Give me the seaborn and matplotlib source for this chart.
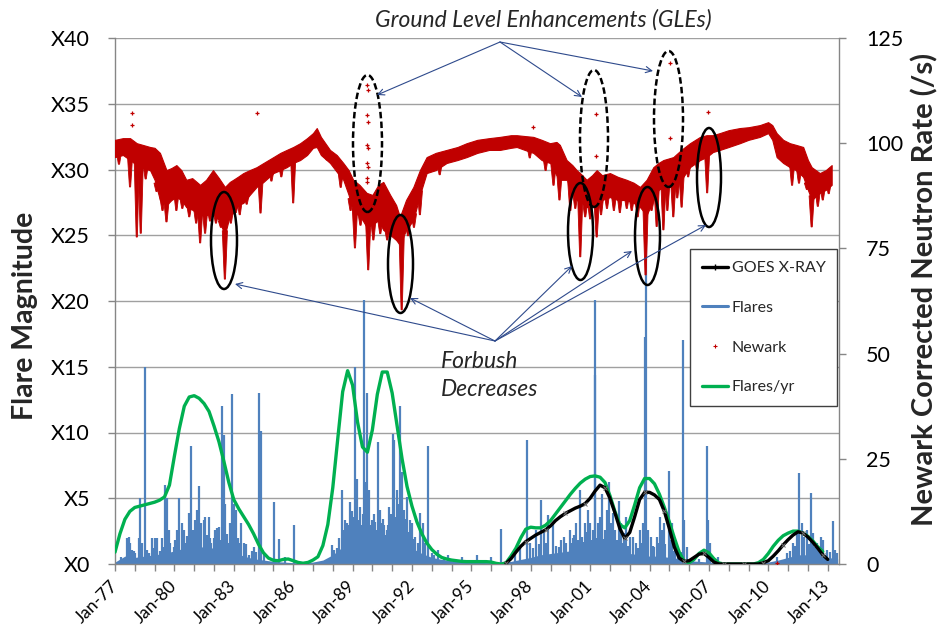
import numpy as np
import pandas as pd
import matplotlib
matplotlib.use("Agg")
import matplotlib.pyplot as plt
import seaborn as sns
from matplotlib.patches import Ellipse, FancyArrowPatch
from matplotlib.lines import Line2D

# ---------------- DATA ----------------
# Individual flare spikes: date (decimal year) and magnitude (X units)
FLARE_T = [
    1977.61, 1977.69, 1977.77, 1977.86, 1978.03, 1978.20, 1978.28, 1978.36, 1978.50, 1978.70,
    1978.87, 1979.00, 1979.12, 1979.37, 1979.46, 1979.54, 1979.64, 1979.74, 1979.96, 1980.13,
    1980.25, 1980.38, 1980.47, 1980.55, 1980.72, 1980.82, 1980.92, 1981.06, 1981.14, 1981.26,
    1981.36, 1981.48, 1981.56, 1981.73, 1981.86, 1981.98, 1982.07, 1982.15, 1982.24, 1982.40,
    1982.49, 1982.57, 1982.74, 1982.82, 1982.93, 1982.99, 1983.09, 1983.25, 1983.35, 1983.50,
    1983.75, 1984.00, 1984.26, 1984.36, 1984.51, 1985.03, 1985.30, 1985.60, 1986.06,
    1977.30, 1977.95, 1978.60, 1978.95, 1979.25, 1979.80, 1980.05, 1980.65, 1981.00, 1981.20,
    1981.65, 1981.80, 1982.30, 1982.65, 1983.20, 1983.60, 1983.90, 1984.10,
    1987.94, 1988.08, 1988.20, 1988.45, 1988.62, 1988.70, 1988.87, 1988.95, 1989.12, 1989.21,
    1989.30, 1989.39, 1989.59, 1989.73, 1989.83, 1989.97, 1990.10, 1990.21, 1990.30, 1990.38,
    1990.50, 1990.60, 1990.72, 1990.85, 1991.02, 1991.09, 1991.22, 1991.31, 1991.39, 1991.48,
    1991.61, 1991.73, 1991.89, 1992.00, 1992.15, 1992.28, 1992.40, 1992.54, 1992.66, 1992.79,
    1992.99, 1993.33, 1993.83, 1994.51, 1995.26,
    1988.30, 1988.55, 1988.80, 1989.05, 1989.17, 1989.45, 1989.52, 1989.64, 1989.67, 1989.69,
    1989.90, 1990.03, 1990.15, 1990.45, 1990.55, 1990.65, 1990.80, 1990.95, 1991.15, 1991.27,
    1991.55, 1991.67, 1991.80, 1991.95, 1992.10, 1992.35, 1992.60, 1993.10, 1993.60,
    1996.00, 1996.48, 1997.19, 1997.44, 1997.83, 1997.94, 1998.28, 1998.53, 1998.67, 1998.87,
    1999.12, 1999.54, 1999.67, 1999.79, 1999.96, 2000.13, 2000.30, 2000.47, 2000.58, 2000.72,
    2000.89, 2001.00, 2001.12, 2001.23, 2001.26, 2001.39, 2001.49, 2001.60, 2001.73, 2001.84,
    2001.94, 2002.04, 2002.15, 2002.27, 2002.44, 2002.57, 2002.71, 2002.83, 2002.99, 2003.16,
    2003.33, 2003.50, 2003.66, 2003.75, 2003.80, 2003.92, 2004.08, 2004.25, 2004.39, 2004.53,
    2004.62, 2004.72, 2004.99, 2005.11, 2005.28, 2005.45, 2005.68, 2005.74, 2005.87, 2006.21,
    2006.88, 2006.93, 2007.05, 2007.47, 2010.42, 2010.92, 2011.26, 2011.43, 2011.56, 2011.68,
    2011.80, 2011.93, 2012.15, 2012.27, 2012.44, 2012.64, 2012.77, 2012.94, 2013.28, 2013.36,
    1998.10, 1998.40, 1998.75, 1999.30, 1999.45, 2000.05, 2000.20, 2000.38, 2000.65, 2000.80,
    2001.05, 2001.32, 2001.55, 2001.67, 2001.90, 2002.10, 2002.35, 2002.50, 2002.65, 2002.92,
    2003.40, 2003.58, 2003.85, 2004.15, 2004.45, 2004.80, 2005.05, 2005.20, 2005.60, 2006.50,
    2011.10, 2011.35, 2011.75, 2012.05, 2012.35, 2012.55, 2013.10, 2013.45,
]
FLARE_MAG = [
    1.95, 2.08, 1.57, 1.06, 0.81, 1.95, 5.00, 1.57, 15.0, 0.81,
    1.95, 1.95, 1.95, 1.95, 1.32, 6.00, 5.00, 2.59, 1.32, 2.59,
    5.00, 3.09, 2.59, 1.57, 3.85, 9.00, 2.59, 3.35, 4.10, 5.90,
    3.09, 3.35, 3.60, 3.60, 1.57, 1.95, 2.59, 2.70, 2.84, 12.0,
    9.80, 4.60, 1.57, 3.09, 12.9, 4.60, 4.10, 1.57, 3.09, 1.57,
    0.68, 1.32, 13.0, 10.1, 0.81, 4.70, 1.88, 0.56, 3.00,
    0.50, 1.00, 1.10, 1.20, 1.00, 1.60, 1.80, 2.10, 2.20, 2.40,
    2.20, 2.00, 1.80, 2.30, 2.00, 1.50, 1.00, 0.90,
    1.44, 1.06, 1.19, 5.60, 3.35, 3.09, 4.70, 4.00, 15.0, 6.50,
    3.35, 4.30, 20.1, 13.0, 5.60, 3.35, 3.80, 2.59, 9.30, 4.10,
    3.09, 3.00, 2.59, 4.35, 9.90, 9.40, 5.60, 4.60, 12.0, 7.00,
    4.10, 5.10, 3.35, 3.09, 2.08, 1.57, 3.85, 3.09, 1.57, 9.00,
    0.81, 1.06, 0.68, 0.56, 0.68,
    2.00, 2.60, 3.00, 3.60, 4.20, 3.00, 3.80, 6.20, 4.60, 5.20,
    3.00, 2.60, 3.20, 2.40, 3.40, 2.20, 3.00, 3.80, 3.60, 3.00,
    3.00, 3.40, 2.40, 2.20, 1.90, 1.40, 1.20, 0.70, 0.50,
    0.56, 2.63, 0.81, 1.32, 9.40, 1.57, 2.59, 4.90, 2.59, 3.70,
    3.09, 1.82, 2.08, 1.57, 2.59, 1.95, 3.09, 5.65, 2.08, 3.09,
    4.10, 3.09, 2.59, 20.1, 14.4, 3.09, 3.60, 5.30, 2.59, 4.10,
    6.20, 3.09, 3.85, 2.59, 4.80, 3.09, 2.34, 3.60, 2.08, 2.08,
    1.57, 2.59, 3.09, 17.3, 28.0, 2.59, 2.08, 1.32, 2.08, 3.60,
    2.59, 3.09, 7.10, 3.09, 1.57, 1.06, 17.0, 3.35, 1.32, 0.56,
    9.00, 3.35, 1.57, 0.56, 0.56, 0.81, 1.57, 2.34, 6.90, 3.09,
    2.08, 2.59, 5.40, 2.34, 1.57, 2.08, 1.82, 1.06, 3.25, 1.06,
    1.20, 1.50, 1.60, 1.40, 1.30, 1.60, 2.20, 1.80, 1.70, 2.40,
    1.80, 2.00, 2.20, 1.90, 2.60, 2.00, 1.80, 2.20, 1.60, 1.40,
    1.20, 1.60, 2.00, 1.40, 1.60, 1.50, 1.80, 1.00, 0.90, 0.40,
    1.00, 1.40, 1.60, 1.50, 1.30, 1.10, 0.90, 0.80,
]
# Dense low-level flare background, half-year steps from Jan-77
FLARE_BG_T = np.arange(1977.0, 2013.51, 0.5)
FLARE_BG = [
    0.15, 0.60, 0.50, 0.60, 0.70, 0.80, 1.00, 1.20, 1.30, 1.30,
    1.20, 1.10, 0.90, 0.60, 0.40, 0.30, 0.20, 0.15, 0.10, 0.10,
    0.15, 0.30, 0.70, 1.30, 2.00, 2.20, 1.80, 1.70, 2.00, 1.80,
    1.20, 0.80, 0.50, 0.35, 0.25, 0.20, 0.15, 0.12, 0.10, 0.10,
    0.20, 0.35, 0.50, 0.70, 0.80, 0.90, 1.00, 1.10, 1.10, 1.10,
    1.10, 1.00, 0.80, 0.70, 0.60, 0.60, 0.50, 0.40, 0.25, 0.20,
    0.15, 0.05, 0.03, 0.03, 0.03, 0.05, 0.15, 0.30, 0.50, 0.70,
    0.70, 0.60, 0.50, 0.40,
]

# Flares per year (smoothed curve), quarterly from Jan-77
FLARES_YR_T = np.arange(1977.0, 2012.76, 0.25)
FLARES_YR = [
    0.9, 2.3, 3.4, 4.0,   4.3, 4.4, 4.5, 4.6,   4.7, 4.85, 5.1, 6.0,
    8.2, 10.3, 12.0, 12.7,   12.8, 12.6, 12.2, 11.6,   10.5, 9.3, 7.8, 6.2,
    4.9, 4.2, 3.6, 3.0,   2.3, 1.5, 0.85, 0.45,   0.28, 0.25, 0.35, 0.38,
    0.25, 0.12, 0.06, 0.12,   0.3, 0.55, 1.4, 3.0,   5.8, 9.5, 13.1, 14.7,
    13.6, 10.8, 8.9, 8.5,   10.2, 12.9, 14.6, 14.6,   13.0, 10.5, 8.0, 5.9,
    4.4, 3.2, 2.3, 1.6,   1.1, 0.75, 0.5, 0.38,   0.3, 0.25, 0.2, 0.18,
    0.18, 0.18, 0.18, 0.18,   0.15, 0.05, 0.0, 0.08,   0.6, 1.2, 2.0, 2.65,
    2.8, 2.75, 2.75, 2.95,   3.3, 3.8, 4.3, 4.8,   5.3, 5.75, 6.15, 6.45,
    6.65, 6.7, 6.6, 6.2,   5.2, 4.0, 3.0, 2.75,   3.3, 4.5, 5.8, 6.5,
    6.5, 6.1, 5.3, 4.3,   3.2, 2.0, 0.9, 0.2,   0.1, 0.35, 0.8, 1.05,
    0.85, 0.4, 0.08, 0.0,   0.0, 0.0, 0.0, 0.0,   0.0, 0.0, 0.1, 0.35,
    0.8, 1.35, 1.8, 2.15,   2.35, 2.5, 2.5, 2.35,   2.1, 1.75, 1.3, 0.95,
]

# GOES X-ray (smoothed), quarterly from Oct-96
GOES_T = np.arange(1996.75, 2013.01, 0.25)
GOES = [
    0.05,
    0.4, 0.9, 1.35, 1.7,   1.95, 2.2, 2.4, 2.6,   2.9, 3.3, 3.6, 3.85,
    4.05, 4.25, 4.4, 4.6,   5.0, 5.55, 6.0, 5.8,   5.0, 3.9, 2.7, 1.95,
    2.4, 3.6, 4.9, 5.45,   5.45, 5.25, 4.9, 4.0,   2.7, 1.3, 0.45, 0.2,
    0.25, 0.5, 0.75, 0.8,   0.5, 0.15, 0.0, 0.0,   0.0, 0.0, 0.0, 0.0,
    0.0, 0.0, 0.0, 0.1,   0.25, 0.6, 1.0, 1.45,   1.85, 2.2, 2.45, 2.35,
    2.05, 1.65, 1.2, 0.7,
    0.35,
]

# Newark neutron rate band (upper / lower envelope of daily values)
NEWARK_T = [
    1977.0, 1977.4, 1977.76, 1978.1, 1978.4, 1978.77, 1979.0, 1979.27, 1979.6, 1979.85,
    1980.1, 1980.35, 1980.6, 1980.9, 1981.3, 1981.6, 1981.95, 1982.25, 1982.55, 1982.8,
    1982.97, 1983.2, 1983.48, 1983.8, 1984.15, 1984.5, 1985.0, 1985.35, 1985.67, 1986.0,
    1986.35, 1986.7, 1987.0, 1987.19, 1987.4, 1987.86, 1988.2, 1988.53, 1988.8, 1989.03,
    1989.35, 1989.71, 1990.0, 1990.3, 1990.55, 1990.9, 1991.2, 1991.39, 1991.7, 1992.07,
    1992.4, 1992.74, 1993.2, 1993.75, 1994.3, 1994.76, 1995.3, 1995.9, 1996.44, 1997.0,
    1997.29, 1997.7, 1998.13, 1998.55, 1998.97, 1999.3, 1999.47, 1999.81, 2000.1, 2000.32,
    2000.6, 2000.82, 2001.1, 2001.33, 2001.6, 2002.0, 2002.4, 2002.84, 2003.2, 2003.52,
    2003.85, 2004.19, 2004.45, 2004.7, 2005.2, 2005.6, 2006.04, 2006.55, 2006.88, 2007.2,
    2007.55, 2008.0, 2008.56, 2009.0, 2009.57, 2009.99, 2010.2, 2010.42, 2010.75, 2011.09,
    2011.4, 2011.76, 2012.0, 2012.19, 2012.6, 2012.9, 2013.2,
]
NEWARK_HI = [
    100.8, 101.2, 101.2, 100.0, 99.6, 99.1, 98.9, 97.7, 93.6, 94.1,
    94.8, 93.6, 91.3, 91.7, 90.1, 91.3, 93.6, 91.7, 89.6, 90.8,
    91.3, 92.0, 92.9, 93.6, 94.3, 95.3, 96.7, 97.7, 98.4, 99.1,
    100.0, 101.2, 102.4, 103.6, 101.5, 98.4, 97.2, 95.3, 93.6, 91.3,
    90.1, 88.2, 87.7, 90.1, 90.8, 87.7, 85.3, 82.5, 86.5, 89.6,
    93.6, 96.7, 97.7, 98.4, 99.1, 100.0, 100.8, 101.2, 101.5, 101.9,
    101.9, 101.7, 101.5, 100.8, 100.0, 100.3, 99.6, 96.0, 94.8, 93.6,
    92.4, 91.3, 92.4, 93.6, 92.4, 92.9, 92.0, 91.3, 90.6, 89.6,
    91.3, 94.3, 95.3, 96.0, 96.7, 98.4, 100.0, 101.5, 101.9, 101.9,
    102.4, 103.1, 103.6, 103.8, 104.3, 105.0, 104.3, 102.4, 100.8, 100.0,
    99.6, 99.1, 96.0, 94.3, 92.9, 93.6, 94.8,
]
NEWARK_LO = [
    96.7, 97.2, 96.0, 94.8, 94.1, 93.6, 91.3, 86.5, 85.3, 86.5,
    87.2, 86.5, 84.8, 84.2, 82.9, 82.9, 83.4, 81.7, 78.2, 82.9,
    83.4, 85.3, 85.8, 87.7, 89.6, 90.8, 92.9, 93.6, 94.3, 95.3,
    96.0, 97.2, 98.9, 99.1, 97.2, 95.3, 93.2, 91.3, 87.7, 83.4,
    82.9, 80.1, 80.6, 81.7, 79.4, 78.2, 77.0, 75.8, 79.4, 81.7,
    87.7, 92.9, 93.6, 95.3, 96.0, 96.7, 97.7, 98.4, 98.4, 98.9,
    99.1, 98.4, 97.7, 96.0, 95.3, 92.4, 91.3, 91.3, 88.9, 86.5,
    85.8, 84.8, 85.3, 84.8, 86.5, 87.2, 86.5, 86.5, 85.8, 84.8,
    82.9, 86.5, 88.9, 89.6, 89.6, 91.3, 94.3, 96.0, 96.7, 97.9,
    98.4, 99.1, 100.0, 100.8, 101.5, 102.4, 100.8, 96.7, 95.3, 94.3,
    93.6, 92.0, 88.9, 86.5, 88.2, 88.9, 90.1,
]
# Short Newark decreases (Forbush-type dips): date and lowest rate
NEWARK_DIP_T = [
    1977.76, 1978.10, 1978.30, 1979.60, 1980.10, 1981.30, 1981.55, 1982.10, 1982.55, 1983.30,
    1984.35, 1986.00, 1988.90, 1989.12, 1989.79, 1990.05, 1991.00, 1991.48, 1992.40, 1999.45,
    2000.00, 2000.50, 2001.00, 2001.33, 2002.20, 2003.10, 2003.80, 2004.36, 2004.70, 2004.90,
    2005.20, 2005.62, 2006.91, 2011.20, 2012.19, 2012.50,
    1977.20, 1978.55, 1979.10, 1979.40, 1980.40, 1980.75, 1981.10, 1981.80, 1982.35, 1982.85,
    1983.10, 1983.65, 1984.90, 1985.40, 1987.70, 1988.40, 1989.40, 1990.40, 1990.75, 1991.80,
    1992.10, 1993.40, 1997.95, 1998.75, 1999.15, 2000.25, 2000.75, 2001.55, 2001.85, 2002.50,
    2002.85, 2003.40, 2004.10, 2005.40, 2005.95, 2006.40, 2011.55, 2011.95, 2012.75, 2013.05,
]
NEWARK_DIP_LO = [
    89.6, 77.7, 78.6, 81.3, 84.0, 76.3, 78.6, 81.0, 67.7, 83.0,
    83.4, 85.8, 84.0, 75.1, 69.9, 77.0, 78.0, 60.4, 83.0, 86.5,
    84.0, 73.0, 82.0, 77.7, 84.0, 84.0, 68.7, 80.2, 79.4, 84.0,
    82.5, 84.8, 88.2, 90.0, 80.1, 85.0,
    95.0, 91.5, 88.5, 84.0, 84.5, 82.5, 81.0, 81.5, 80.0, 81.0,
    83.5, 85.5, 91.0, 92.0, 96.0, 89.5, 80.5, 78.5, 77.0, 78.0,
    80.0, 92.5, 96.5, 93.5, 90.0, 84.5, 82.5, 83.0, 84.5, 83.5,
    84.5, 82.5, 84.0, 87.0, 92.0, 93.5, 90.5, 89.0, 86.5, 88.0,
]
# Isolated Newark readings (GLE enhancements and other outliers)
NEWARK_PT_T = [
    1977.87, 1977.87, 1984.16, 1998.10,
    1989.72, 1989.78, 1989.75, 1989.78, 1989.75, 1989.78, 1989.72, 1989.78, 1989.75, 1989.72,
    2001.28, 2001.28, 2005.03, 2005.03, 2006.93, 2010.42,
]
NEWARK_PT_V = [
    107.2, 104.3, 107.2, 103.9,
    113.8, 112.6, 106.7, 105.1, 99.6, 98.8, 95.3, 94.3, 91.7, 90.8,
    106.9, 97.0, 119.0, 101.2, 107.3, 0.3,
]

LEFT_TICKS = [0, 5, 10, 15, 20, 25, 30, 35, 40]
LEFT_TICK_LABELS = ["X0", "X5", "X10", "X15", "X20", "X25", "X30", "X35", "X40"]
RIGHT_TICKS = [0, 25, 50, 75, 100, 125]
YEAR_TICKS = list(range(1977, 2014))
X_LABEL_YEARS = [1977, 1980, 1983, 1986, 1989, 1992, 1995, 1998, 2001, 2004, 2007, 2010, 2013]
X_LABELS = ["Jan-77", "Jan-80", "Jan-83", "Jan-86", "Jan-89", "Jan-92", "Jan-95",
            "Jan-98", "Jan-01", "Jan-04", "Jan-07", "Jan-10", "Jan-13"]
LEGEND_LABELS = ["GOES X-RAY", "Flares", "Newark", "Flares/yr"]

# ---------------- STYLE ----------------
BLUE = "#4F81BD"
GREEN = "#00B050"
RED = "#C00000"
GRID = "#A0A0A0"
SPINE = "#868686"
ARROW = "#2E4A8C"
DIP_HALF_TOP = 0.13   # half-width of a dip wedge at the band (years)
DIP_HALF_BOT = 0.03   # half-width at its deepest point (years)

sns.set_theme(style="white")
plt.rcParams["font.family"] = ["Lato", "DejaVu Sans"]

W, H = 942, 633
fig = plt.figure(figsize=(W / 100, H / 100), dpi=100)
ax = fig.add_axes([115 / W, 1 - 564 / H, 724 / W, 526 / H])
ax2 = ax.twinx()

# ---------------- PRIMARY AXIS: flares ----------------
ax.fill_between(FLARE_BG_T, 0, FLARE_BG, color=BLUE, lw=0, zorder=1)
ax.vlines(FLARE_T, 0, FLARE_MAG, color=BLUE, lw=1.6, zorder=2)

df_green = pd.DataFrame({"t": FLARES_YR_T, "v": FLARES_YR})
sns.lineplot(data=df_green, x="t", y="v", ax=ax, color=GREEN, lw=2.4,
             estimator=None, sort=False, zorder=3)
df_goes = pd.DataFrame({"t": GOES_T, "v": GOES})
sns.lineplot(data=df_goes, x="t", y="v", ax=ax, color="black", lw=2.4,
             estimator=None, sort=False, zorder=4,
             marker="x", markersize=3, markeredgecolor="#707070", markevery=4)

ax.set_xlim(1977.0, 2013.57)
ax.set_ylim(0, 40)
ax.set_xlabel("")
ax.set_ylabel("")
ax.set_yticks(LEFT_TICKS)
ax.set_yticklabels(LEFT_TICK_LABELS)
ax.set_xticks(X_LABEL_YEARS)
ax.set_xticklabels(X_LABELS)
ax.set_xticks(YEAR_TICKS, minor=True)
plt.setp(ax.get_xticklabels(), rotation=45, ha="right", va="center", rotation_mode="anchor")
ax.grid(axis="y", color=GRID, lw=1.0)
ax.grid(axis="x", visible=False)
ax.set_axisbelow(True)
ax.tick_params(axis="y", direction="out", length=5, width=1, color=SPINE,
               labelsize=15.5, pad=13, left=True, labelcolor="black")
ax.tick_params(axis="x", which="both", direction="out", length=5, width=1, color=SPINE,
               labelsize=12.5, pad=9, bottom=True, labelcolor="black")
for s in ["top", "right"]:
    ax.spines[s].set_visible(False)
for s in ["left", "bottom"]:
    ax.spines[s].set_color(SPINE)
    ax.spines[s].set_linewidth(1.0)

# ---------------- SECONDARY AXIS: Newark ----------------
ax2.fill_between(NEWARK_T, NEWARK_LO, NEWARK_HI, color=RED, lw=0.8, edgecolor=RED, zorder=2)
dip_top = np.interp(NEWARK_DIP_T, NEWARK_T, NEWARK_LO) + 1.0
for t, lo, top in zip(NEWARK_DIP_T, NEWARK_DIP_LO, dip_top):
    ax2.fill([t - DIP_HALF_TOP, t + DIP_HALF_TOP, t + DIP_HALF_BOT, t - DIP_HALF_BOT],
             [top, top, lo, lo], color=RED, lw=0.6, edgecolor=RED, zorder=2)
df_pts = pd.DataFrame({"t": NEWARK_PT_T, "v": NEWARK_PT_V})
sns.scatterplot(data=df_pts, x="t", y="v", ax=ax2, marker="+", s=7, color=RED,
                linewidth=0.9, zorder=3)
ax2.set_ylim(0, 125)
ax2.set_xlim(1977.0, 2013.57)
ax2.set_ylabel("")
ax2.set_yticks(RIGHT_TICKS)
ax2.tick_params(axis="y", direction="out", length=5, width=1, color=SPINE,
                labelsize=15.5, pad=14.5, right=True, labelcolor="black")
ax2.grid(False)
for s in ["top", "left", "bottom"]:
    ax2.spines[s].set_visible(False)
ax2.spines["right"].set_color(SPINE)
ax2.spines["right"].set_linewidth(1.0)

# axis titles
fig.text(25 / W, 1 - 316 / H, "Flare Magnitude", rotation=90, ha="center", va="center",
         fontsize=20.5, fontweight="bold")
fig.text(925 / W, 1 - 289 / H, "Newark Corrected Neutron Rate (/s)", rotation=90,
         ha="center", va="center", fontsize=21, fontweight="bold")

# legend
handles = [
    Line2D([], [], color="black", lw=2.4, marker="+", markersize=5, markeredgewidth=1.0),
    Line2D([], [], color=BLUE, lw=2.2),
    Line2D([], [], color=RED, lw=0, marker="+", markersize=3, markeredgewidth=0.8),
    Line2D([], [], color=GREEN, lw=2.4),
]
leg = ax2.legend(handles, LEGEND_LABELS, loc="upper left",
                 bbox_to_anchor=(690 / W, 1 - 249 / H), bbox_transform=fig.transFigure,
                 frameon=True, fancybox=False, edgecolor="#404040", framealpha=1,
                 fontsize=11.5, borderpad=0.75, labelspacing=1.6, handlelength=1.6,
                 handletextpad=0.25, borderaxespad=0)
leg.get_frame().set_linewidth(1.0)

# ---------------- ANNOTATIONS (figure-pixel positions) ----------------
def fp(x, y):
    return (x / W, 1 - y / H)

fig.text(*fp(543, 20), "Ground Level Enhancements (GLEs)", ha="center", va="center",
         style="italic", fontsize=16.5)
fig.text(*fp(441, 362), "Forbush", ha="left", va="center", style="italic", fontsize=16.5)
fig.text(*fp(441, 390), "Decreases", ha="left", va="center", style="italic", fontsize=16.5)

GLE_ELLIPSES = [(367.5, 143.5, 29, 137), (594, 138.5, 28, 137), (668.5, 119, 29, 136)]
FB_ELLIPSES = [(224, 240.5, 26, 97), (400.5, 264, 25, 98), (580.5, 231.5, 25, 97),
               (647.5, 236, 25, 98), (709, 177.5, 24, 99)]
for cx, cy, w, h in GLE_ELLIPSES:
    fig.add_artist(Ellipse(fp(cx, cy), w / W, h / H, transform=fig.transFigure, fill=False,
                           edgecolor="black", lw=1.8, linestyle=(0, (2.6, 1.3)), zorder=5))
for cx, cy, w, h in FB_ELLIPSES:
    fig.add_artist(Ellipse(fp(cx, cy), w / W, h / H, transform=fig.transFigure, fill=False,
                           edgecolor="black", lw=1.8, zorder=5))

GLE_ARROWS = [((500, 42), (377, 95)), ((500, 42), (582, 97)), ((500, 42), (653, 71))]
FB_ARROWS = [((495, 341), (235, 284)), ((495, 341), (410, 298)), ((495, 341), (572, 266)),
             ((495, 341), (632, 251)), ((495, 341), (706, 225))]
for tail, head in GLE_ARROWS + FB_ARROWS:
    fig.add_artist(FancyArrowPatch(fp(*tail), fp(*head), transform=fig.transFigure,
                                   arrowstyle="->", mutation_scale=11, lw=0.8,
                                   color=ARROW, shrinkA=0, shrinkB=0, zorder=6))

fig.savefig("out.png", dpi=100)
